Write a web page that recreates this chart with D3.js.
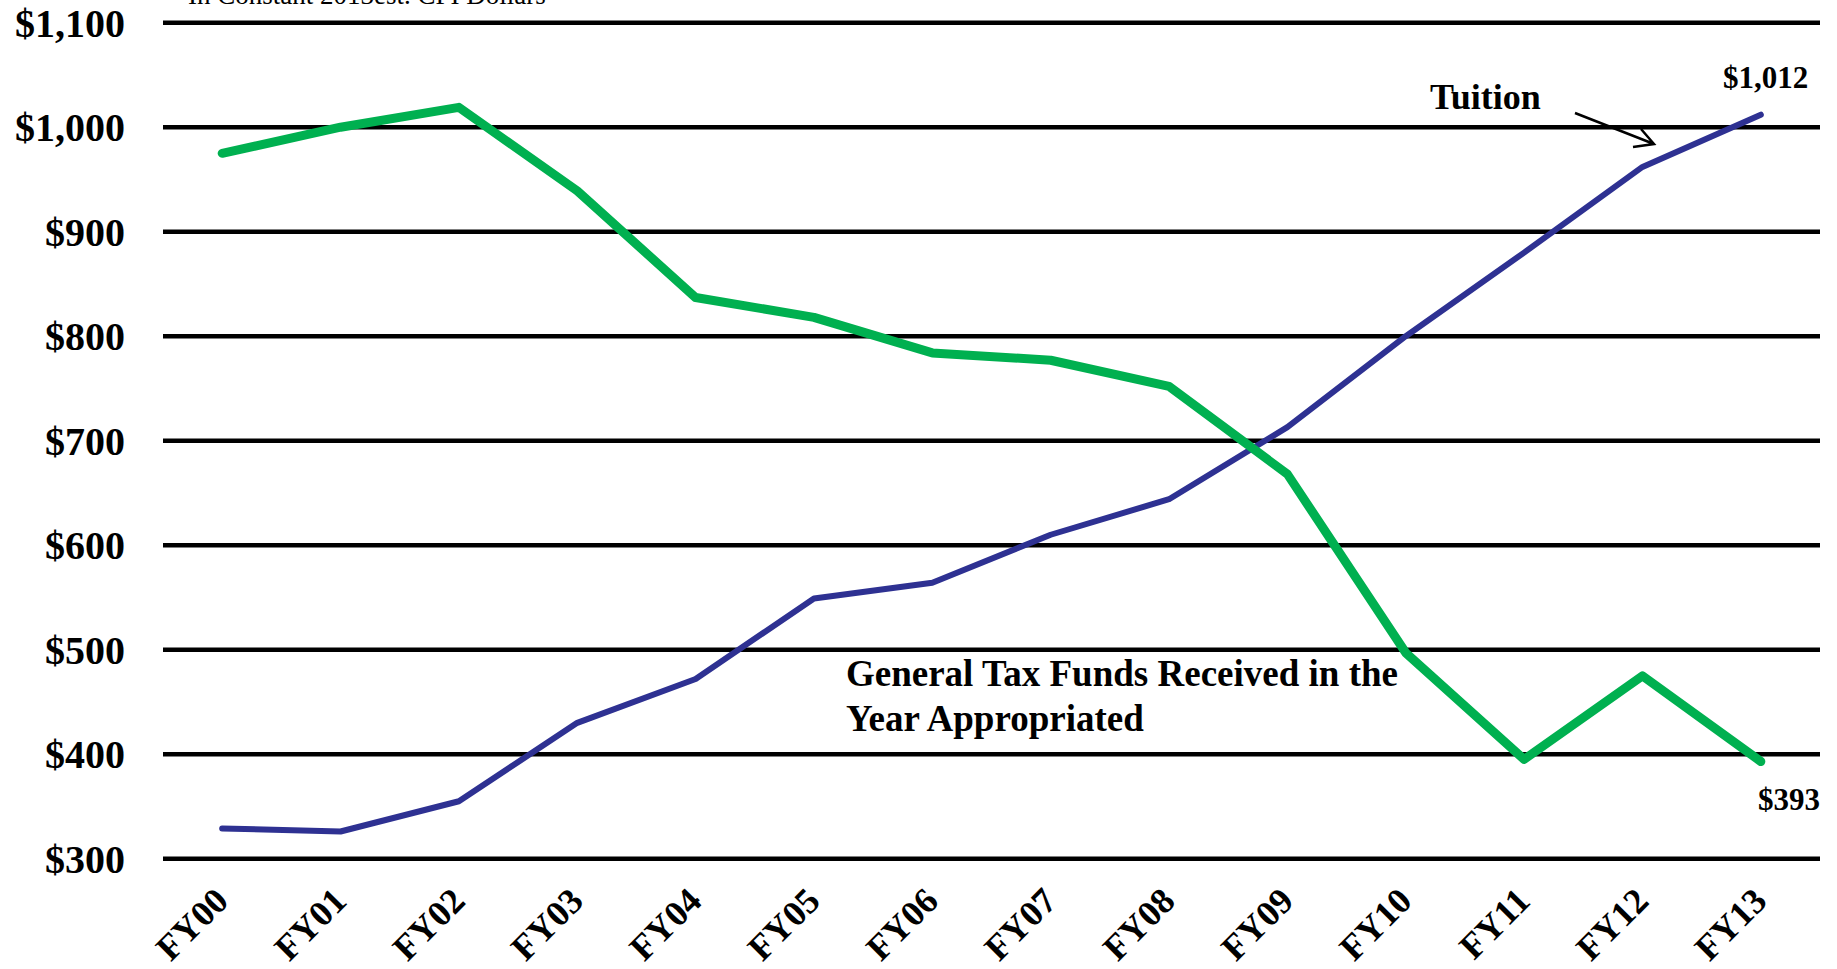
<!DOCTYPE html>
<html>
<head>
<meta charset="utf-8">
<script src="https://cdn.jsdelivr.net/npm/d3@7"></script>
<style>
  body { margin: 0; background: #fff; }
  svg { display: block; font-family: "Liberation Serif", "Times New Roman", serif; }
</style>
</head>
<body>
<svg width="1837" height="969"></svg>
<script>
const width = 1837
const height = 969

const years = ["FY00", "FY01", "FY02", "FY03", "FY04", "FY05", "FY06", "FY07", "FY08", "FY09", "FY10", "FY11", "FY12", "FY13"]
const taxFunds = [975, 1000, 1019, 939, 837, 818, 784, 777, 752, 668, 497, 395, 475, 393]
const tuition = [329, 326, 355, 430, 472, 549, 564, 610, 644, 713, 800, 880, 962, 1012]
const yTicks = [300, 400, 500, 600, 700, 800, 900, 1000, 1100]

const svg = d3.select("svg")

svg.append("rect")
  .attr("width", width)
  .attr("height", height)
  .attr("fill", "#fff")

const x = d3.scalePoint()
  .domain(years)
  .range([163, 1820])
  .padding(0.5)

const y = d3.scaleLinear()
  .domain([300, 1100])
  .range([858.7, 22.7])

const fmt = d3.format("$,")

// gridlines
svg.append("g")
  .selectAll("line")
  .data(yTicks)
  .join("line")
  .attr("x1", 163)
  .attr("x2", 1820)
  .attr("y1", d => y(d))
  .attr("y2", d => y(d))
  .attr("stroke", "#000")
  .attr("stroke-width", 4.5)

// y labels
svg.append("g")
  .selectAll("text")
  .data(yTicks)
  .join("text")
  .attr("x", 125)
  .attr("y", d => y(d) + 14)
  .attr("text-anchor", "end")
  .attr("font-size", 40)
  .attr("font-weight", "bold")
  .text(d => fmt(d))

// x labels
svg.append("g")
  .selectAll("text")
  .data(years)
  .join("text")
  .attr("transform", d => `translate(${x(d) + 8},${903}) rotate(-45)`)
  .attr("text-anchor", "end")
  .attr("font-size", 36)
  .attr("font-weight", "bold")
  .text(d => d)

const line = d3.line()
  .x((d, i) => x(years[i]))
  .y(d => y(d))

svg.append("path")
  .datum(tuition)
  .attr("d", line)
  .attr("fill", "none")
  .attr("stroke", "#2E3192")
  .attr("stroke-width", 6)
  .attr("stroke-linecap", "round")
  .attr("stroke-linejoin", "round")

svg.append("path")
  .datum(taxFunds)
  .attr("d", line)
  .attr("fill", "none")
  .attr("stroke", "#00B050")
  .attr("stroke-width", 9)
  .attr("stroke-linecap", "round")
  .attr("stroke-linejoin", "round")

// subtitle, cut at the top edge like the source
svg.append("text")
  .attr("x", 188)
  .attr("y", 4)
  .attr("font-size", 27)
  .text("In Constant 2013est. CPI Dollars")

// annotations
svg.append("text")
  .attr("x", 1430)
  .attr("y", 109)
  .attr("font-size", 36)
  .attr("font-weight", "bold")
  .text("Tuition")

svg.append("path")
  .attr("d", "M1575,113 L1654,144 M1633,147 L1654,144 L1641,129")
  .attr("fill", "none")
  .attr("stroke", "#000")
  .attr("stroke-width", 2.5)

const last = years.length - 1

svg.append("text")
  .attr("x", 1723)
  .attr("y", 88)
  .attr("font-size", 31)
  .attr("font-weight", "bold")
  .text(fmt(tuition[last]))

svg.append("text")
  .attr("x", 1758)
  .attr("y", 810)
  .attr("font-size", 31)
  .attr("font-weight", "bold")
  .text(fmt(taxFunds[last]))

const note = svg.append("text")
  .attr("x", 846)
  .attr("y", 686)
  .attr("font-size", 37)
  .attr("font-weight", "bold")

note.append("tspan").attr("x", 846).text("General Tax Funds Received in the")
note.append("tspan").attr("x", 846).attr("dy", 45).text("Year Appropriated")
</script>
</body>
</html>
